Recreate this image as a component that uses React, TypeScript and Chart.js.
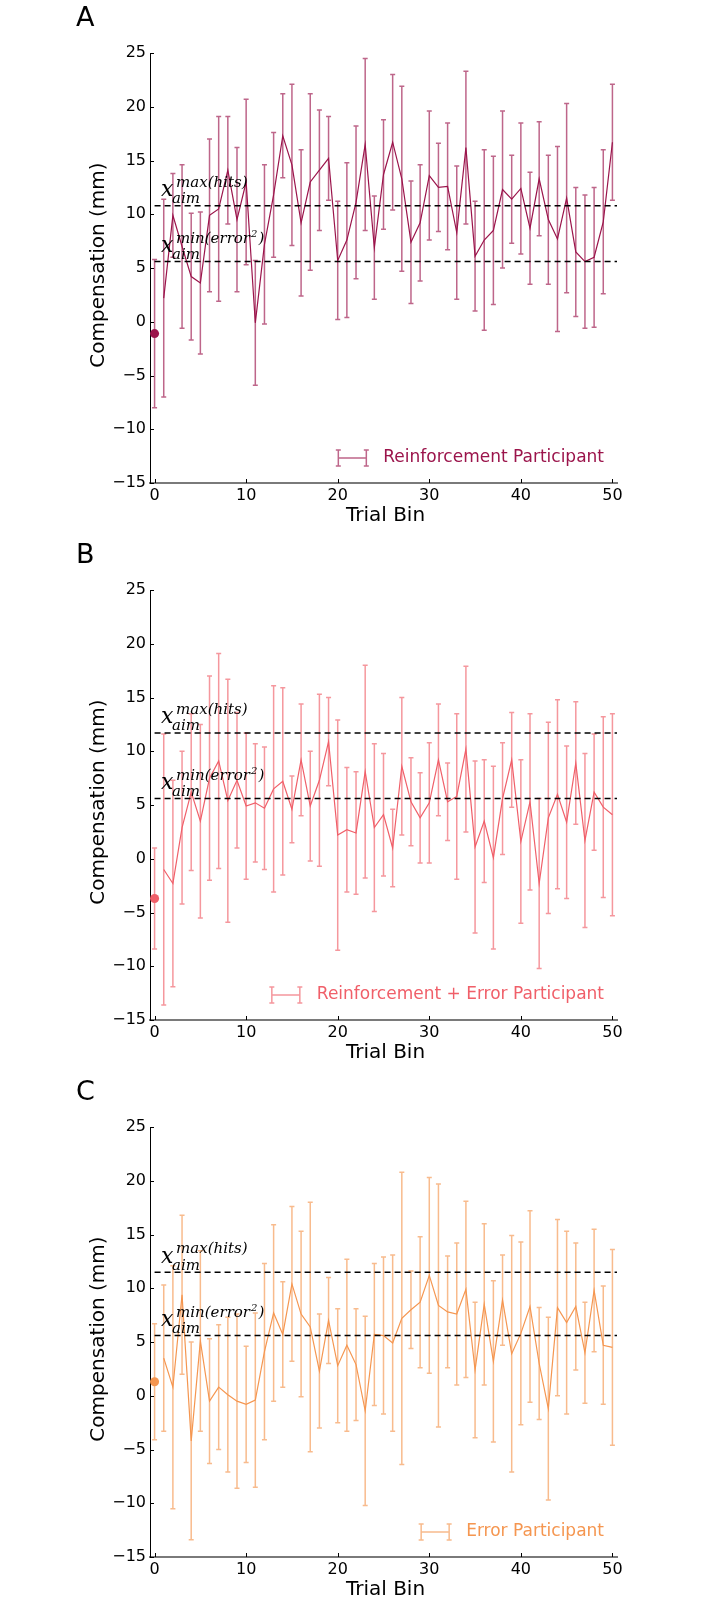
import React, { useEffect, useRef } from "react";
import { Chart, registerables } from "chart.js";

Chart.register(...registerables);

const trialBins = [
  0, 1, 2, 3, 4, 5, 6, 7, 8, 9, 10, 11, 12, 13, 14, 15, 16, 17, 18, 19, 20, 21, 22, 23, 24, 25,
  26, 27, 28, 29, 30, 31, 32, 33, 34, 35, 36, 37, 38, 39, 40, 41, 42, 43, 44, 45, 46, 47, 48, 49, 50,
];
const xTickValues = [0, 10, 20, 30, 40, 50];
const yTickValues = [-15, -10, -5, 0, 5, 10, 15, 20, 25];

// Panel A: Reinforcement Participant
const reinforcementMeans = [
  -1.1, 2.2, 9.9, 7.0, 4.2, 3.6, 9.9, 10.5, 14.1, 9.5, 13.0, -0.1, 7.2, 11.8, 17.3, 14.6, 9.2, 13.0,
  14.1, 15.2, 5.7, 7.6, 11.1, 16.5, 6.9, 13.7, 16.7, 13.3, 7.4, 9.2, 13.6, 12.5, 12.6, 8.3, 16.2, 6.1,
  7.6, 8.5, 12.3, 11.4, 12.4, 8.7, 13.3, 9.5, 7.7, 11.5, 6.5, 5.6, 6.0, 9.3, 16.7,
];
const reinforcementErrors = [
  6.9, 9.2, 3.9, 7.6, 5.9, 6.6, 7.1, 8.6, 5.0, 6.7, 7.7, 5.8, 7.4, 5.8, 3.9, 7.5, 6.8, 8.2, 5.6, 3.9,
  5.5, 7.2, 7.1, 8.0, 4.8, 5.1, 6.3, 8.6, 5.7, 5.4, 6.0, 4.1, 5.9, 6.2, 7.1, 5.1, 8.4, 6.9, 7.3, 4.1,
  6.1, 5.2, 5.3, 6.0, 8.6, 8.8, 6.0, 6.2, 6.5, 6.7, 5.4,
];

// Panel B: Reinforcement + Error Participant
const reinfErrorMeans = [
  -3.7, -1.0, -2.3, 2.9, 6.2, 3.5, 7.5, 9.1, 5.4, 7.3, 4.9, 5.2, 4.7, 6.5, 7.2, 4.6, 9.2, 4.9, 7.3,
  10.9, 2.2, 2.7, 2.4, 8.1, 2.9, 4.1, 1.0, 8.6, 5.3, 3.8, 5.2, 9.2, 5.3, 5.8, 10.2, 1.1, 3.5, 0.1, 5.6,
  9.2, 1.6, 5.3, -2.3, 3.8, 6.0, 3.4, 8.9, 1.7, 6.2, 4.8, 4.1,
];
const reinfErrorErrors = [
  4.7, 12.6, 9.6, 7.1, 7.3, 9.0, 9.5, 10.0, 11.3, 6.3, 6.8, 5.5, 5.7, 9.6, 8.7, 3.1, 5.2, 5.1, 8.0,
  4.1, 10.7, 5.8, 5.7, 9.9, 7.8, 5.7, 3.6, 6.4, 4.1, 4.2, 5.6, 5.2, 3.6, 7.7, 7.7, 8.0, 5.7, 8.5, 5.2,
  4.4, 7.6, 8.2, 7.9, 8.9, 8.8, 7.1, 5.7, 8.1, 5.4, 8.4, 9.4,
];

// Panel C: Error Participant
const errorMeans = [
  1.3, 3.5, 0.8, 9.4, -4.2, 5.1, -0.5, 0.8, 0.1, -0.5, -0.8, -0.4, 4.1, 7.7, 5.7, 10.4, 7.6, 6.4, 2.3,
  7.0, 2.8, 4.7, 2.9, -1.4, 5.7, 5.6, 4.9, 7.2, 8.0, 8.7, 11.2, 8.4, 7.8, 7.6, 9.9, 2.4, 8.5, 3.2, 8.9,
  3.9, 5.8, 8.3, 3.0, -1.2, 8.2, 6.8, 8.3, 4.0, 9.8, 4.7, 4.5,
];
const errorErrors = [
  5.4, 6.8, 11.3, 7.4, 9.2, 8.4, 5.8, 5.8, 7.2, 8.1, 5.4, 8.1, 8.2, 8.2, 4.9, 7.2, 7.7, 11.6, 5.3, 4.0,
  5.3, 8.0, 5.2, 8.8, 6.6, 7.3, 8.2, 13.6, 3.6, 6.1, 9.1, 11.3, 5.2, 6.6, 8.2, 6.3, 7.5, 7.5, 4.2, 11.0,
  8.5, 8.9, 5.2, 8.5, 8.2, 8.5, 5.9, 4.7, 5.7, 5.5, 9.1,
];

const maxHitsLevels = [10.8, 11.7, 11.5];
const minErrorLevels = [5.6, 5.6, 5.6];
const panelLetters = ["A", "B", "C"];
const seriesLabels = [
  "Reinforcement Participant",
  "Reinforcement + Error Participant",
  "Error Participant",
];
const seriesColors: number[][] = [
  [155, 20, 75],
  [240, 95, 105],
  [245, 150, 80],
];
const panelMeans = [reinforcementMeans, reinfErrorMeans, errorMeans];
const panelErrors = [reinforcementErrors, reinfErrorErrors, errorErrors];

const SANS = '"DejaVu Sans", sans-serif';
const SERIF = '"DejaVu Serif", serif';
const PANEL_H = 537;

function rgba(c: number[], a: number) {
  return `rgba(${c[0]},${c[1]},${c[2]},${a})`;
}

function fmtTick(v: number) {
  return v < 0 ? "\u2212" + Math.abs(v) : String(v);
}

function Panel({ index }: { index: number }) {
  const ref = useRef<HTMLCanvasElement>(null);

  useEffect(() => {
    const canvas = ref.current!;
    const means = panelMeans[index];
    const errs = panelErrors[index];
    const col = seriesColors[index];
    const solid = rgba(col, 1);
    const light = rgba(col, 0.65);

    const drawLatexLabel = (
      ctx: CanvasRenderingContext2D,
      left: number,
      lineY: number,
      supMain: string,
      supPow: string
    ) => {
      ctx.fillStyle = "#000";
      ctx.textAlign = "left";
      ctx.textBaseline = "alphabetic";
      ctx.font = `italic 22px ${SERIF}`;
      ctx.fillText("x", left, lineY - 9.5);
      ctx.font = `italic 15px ${SERIF}`;
      let sx = left + 15;
      if (supPow) {
        ctx.fillText(supMain, sx, lineY - 19);
        sx += ctx.measureText(supMain).width + 1;
        ctx.font = `italic 10px ${SERIF}`;
        ctx.fillText(supPow, sx, lineY - 25);
        sx += ctx.measureText(supPow).width + 1;
        ctx.font = `italic 15px ${SERIF}`;
        ctx.fillText(")", sx, lineY - 19);
      } else {
        ctx.fillText(supMain, sx, lineY - 19);
      }
      ctx.fillText("aim", left + 11, lineY - 2.5);
    };

    const overlay = {
      id: "overlay" + index,
      beforeDatasetsDraw(chart: any) {
        const { ctx, scales } = chart;
        const xs = scales.x;
        const ys = scales.y;
        ctx.save();
        ctx.strokeStyle = light;
        ctx.lineWidth = 1.5;
        trialBins.forEach((b, i) => {
          const x = xs.getPixelForValue(b);
          const y1 = ys.getPixelForValue(means[i] + errs[i]);
          const y2 = ys.getPixelForValue(means[i] - errs[i]);
          ctx.beginPath();
          ctx.moveTo(x, y1);
          ctx.lineTo(x, y2);
          ctx.moveTo(x - 2.5, y1);
          ctx.lineTo(x + 2.5, y1);
          ctx.moveTo(x - 2.5, y2);
          ctx.lineTo(x + 2.5, y2);
          ctx.stroke();
        });
        ctx.restore();
      },
      afterDatasetsDraw(chart: any) {
        const { ctx, scales, chartArea: a } = chart;
        const xs = scales.x;
        const ys = scales.y;
        ctx.save();
        ctx.strokeStyle = "#000";
        ctx.lineWidth = 1.5;
        ctx.setLineDash([6, 4]);
        [maxHitsLevels[index], minErrorLevels[index]].forEach((v) => {
          const y = ys.getPixelForValue(v);
          ctx.beginPath();
          ctx.moveTo(xs.getPixelForValue(0), y);
          ctx.lineTo(a.right, y);
          ctx.stroke();
        });
        ctx.setLineDash([]);
        const labelLeft = xs.getPixelForValue(0) + 6.5;
        drawLatexLabel(ctx, labelLeft, ys.getPixelForValue(maxHitsLevels[index]), "max(hits)", "");
        drawLatexLabel(ctx, labelLeft, ys.getPixelForValue(minErrorLevels[index]), "min(error", "2");
        ctx.restore();
      },
      afterDraw(chart: any) {
        const { ctx, scales, chartArea: a } = chart;
        const xs = scales.x;
        const ys = scales.y;
        ctx.save();
        // inward tick marks
        ctx.strokeStyle = "#000";
        ctx.lineWidth = 1;
        ctx.beginPath();
        yTickValues.forEach((v) => {
          const y = Math.round(ys.getPixelForValue(v)) + 0.5;
          ctx.moveTo(a.left, y);
          ctx.lineTo(a.left + 4, y);
        });
        xTickValues.forEach((v) => {
          const x = Math.round(xs.getPixelForValue(v)) + 0.5;
          ctx.moveTo(x, a.bottom);
          ctx.lineTo(x, a.bottom - 4);
        });
        ctx.stroke();

        // panel letter
        ctx.fillStyle = "#000";
        ctx.font = `27px ${SANS}`;
        ctx.textAlign = "left";
        ctx.textBaseline = "alphabetic";
        ctx.fillText(panelLetters[index], 76, a.top - 27);

        // axis titles
        ctx.font = `20px ${SANS}`;
        ctx.textAlign = "center";
        ctx.textBaseline = "middle";
        ctx.fillText("Trial Bin", (a.left + a.right) / 2 + 2, a.bottom + 33);
        ctx.save();
        ctx.translate(99, (a.top + a.bottom) / 2 - 3);
        ctx.rotate(-Math.PI / 2);
        ctx.fillText("Compensation (mm)", 0, 0);
        ctx.restore();

        // legend
        ctx.font = `17px ${SANS}`;
        ctx.textAlign = "right";
        ctx.textBaseline = "middle";
        ctx.fillStyle = solid;
        const ly = a.bottom - 25;
        const textRight = a.right - 13;
        ctx.fillText(seriesLabels[index], textRight, ly);
        const tw = ctx.measureText(seriesLabels[index]).width;
        const iconRight = textRight - tw - 17;
        const iconLeft = iconRight - 28;
        ctx.strokeStyle = light;
        ctx.lineWidth = 1.5;
        ctx.beginPath();
        ctx.moveTo(iconLeft, ly);
        ctx.lineTo(iconRight, ly);
        [iconLeft, iconRight].forEach((x) => {
          ctx.moveTo(x, ly - 8);
          ctx.lineTo(x, ly + 8);
          ctx.moveTo(x - 2.5, ly - 8);
          ctx.lineTo(x + 2.5, ly - 8);
          ctx.moveTo(x - 2.5, ly + 8);
          ctx.lineTo(x + 2.5, ly + 8);
        });
        ctx.stroke();
        ctx.restore();
      },
    };

    const chart = new Chart(canvas, {
      type: "line",
      data: {
        datasets: [
          {
            type: "line",
            data: trialBins.slice(1).map((b, k) => ({ x: b, y: means[k + 1] })),
            borderColor: solid,
            borderWidth: 1.2,
            pointRadius: 0,
            fill: false,
            tension: 0,
          } as any,
          {
            type: "scatter",
            data: [{ x: trialBins[0], y: means[0] }],
            pointRadius: 4.5,
            pointBackgroundColor: solid,
            pointBorderWidth: 0,
            showLine: false,
          } as any,
        ],
      },
      options: {
        animation: false,
        responsive: false,
        events: [],
        layout: { padding: { top: 53, right: 91, left: 0, bottom: 0 } },
        plugins: { legend: { display: false }, tooltip: { enabled: false } },
        scales: {
          x: {
            type: "linear",
            min: -0.5,
            max: 50.5,
            grid: { display: false, drawTicks: false },
            border: { display: true, color: "#7a7a7a", width: 2 },
            ticks: {
              font: { family: SANS, size: 16 },
              color: "#000",
              padding: 3,
              autoSkip: false,
              maxRotation: 0,
              callback: (v: any) => fmtTick(Number(v)),
            },
            afterBuildTicks: (s: any) => {
              s.ticks = xTickValues.map((v) => ({ value: v }));
            },
            afterFit: (s: any) => {
              s.height = PANEL_H - 53 - 430;
            },
          },
          y: {
            type: "linear",
            min: -15,
            max: 25,
            grid: { display: false, drawTicks: false },
            border: { display: true, color: "#000", width: 1 },
            ticks: {
              font: { family: SANS, size: 16 },
              color: "#000",
              padding: 4,
              autoSkip: false,
              callback: (v: any) => fmtTick(Number(v)),
            },
            afterBuildTicks: (s: any) => {
              s.ticks = yTickValues.map((v) => ({ value: v }));
            },
            afterFit: (s: any) => {
              s.width = 150;
            },
          },
        } as any,
      },
      plugins: [overlay],
    });

    return () => chart.destroy();
  }, [index]);

  return (
    <div
      style={{
        position: "absolute",
        left: 0,
        top: index * PANEL_H,
        width: 708,
        height: PANEL_H,
      }}
    >
      <canvas ref={ref} width={708} height={PANEL_H} style={{ display: "block" }} />
    </div>
  );
}

export default function App() {
  return (
    <div
      style={{
        position: "absolute",
        left: 0,
        top: 0,
        width: 708,
        height: 1600,
        overflow: "hidden",
        background: "#fff",
      }}
    >
      {[0, 1, 2].map((i) => (
        <Panel key={i} index={i} />
      ))}
    </div>
  );
}
